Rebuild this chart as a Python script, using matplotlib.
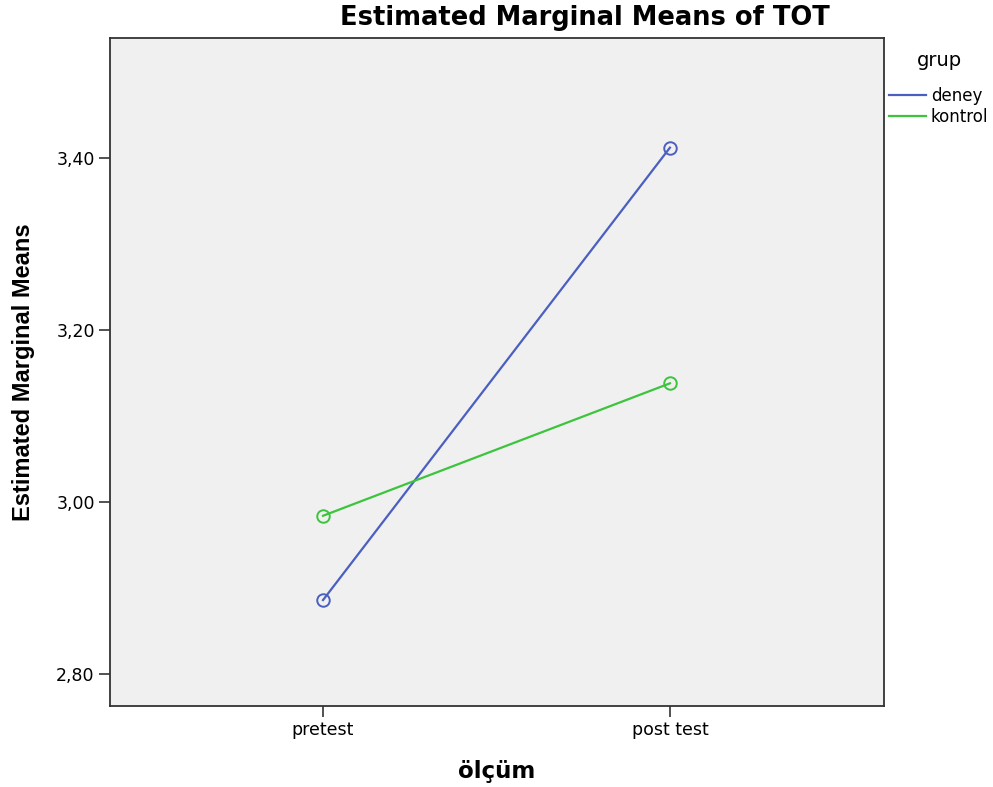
import numpy as np
from matplotlib import pyplot as plt

plt.rcParams['font.family'] = ['DejaVu Sans']

categories = ['pretest', 'post test']
groups = ['deney', 'kontrol']
deney = [2.886, 3.412]
kontrol = [2.984, 3.138]
yticks = [2.80, 3.00, 3.20, 3.40]

fig = plt.figure(figsize=(9.93, 7.87), dpi=100)
ax = fig.add_axes([0.1108, 0.1029, 0.7794, 0.8488])
ax.set_facecolor('#f0f0f0')

x = np.arange(len(categories))
colors = {'deney': '#4a5fbf', 'kontrol': '#3cc43c'}
for name, vals in zip(groups, [deney, kontrol]):
    ax.plot(x, vals, color=colors[name], lw=1.6, marker='o', ms=9,
            mfc='none', mec=colors[name], mew=1.4, label=name)

ax.set_xlim(-0.614, 1.617)
ax.set_ylim(2.7628, 3.5395)
ax.set_xticks(x)
ax.set_xticklabels(categories, fontsize=12.5)
ax.set_yticks(yticks)
ax.set_yticklabels([('%.2f' % v).replace('.', ',') for v in yticks], fontsize=12.5)
ax.tick_params(direction='out', length=8, width=1.2, color='#333333', pad=3)
for s in ax.spines.values():
    s.set_linewidth(1.3)
    s.set_color('#333333')

ax.set_xlabel('ölçüm', fontsize=16.5, fontweight='bold', labelpad=15)
ax.set_ylabel('Estimated Marginal Means', fontsize=17, fontweight='bold',
              labelpad=15, family='Liberation Sans')
fig.text(585 / 993, 1 - 18 / 787, 'Estimated Marginal Means of TOT',
         fontsize=18.5, fontweight='bold', ha='center', va='center')

fig.text(939 / 993, 1 - 61 / 787, 'grup', fontsize=14, ha='center', va='center')
leg = fig.legend(*ax.get_legend_handles_labels(), loc='upper left',
                 bbox_to_anchor=(889 / 993, 1 - 87 / 787), frameon=False,
                 fontsize=12, handlelength=2.2, handletextpad=0.3,
                 borderpad=0, borderaxespad=0, labelspacing=0.15)
for h in leg.legend_handles:
    h.set_marker('')

fig.savefig('out.png', dpi=100)
